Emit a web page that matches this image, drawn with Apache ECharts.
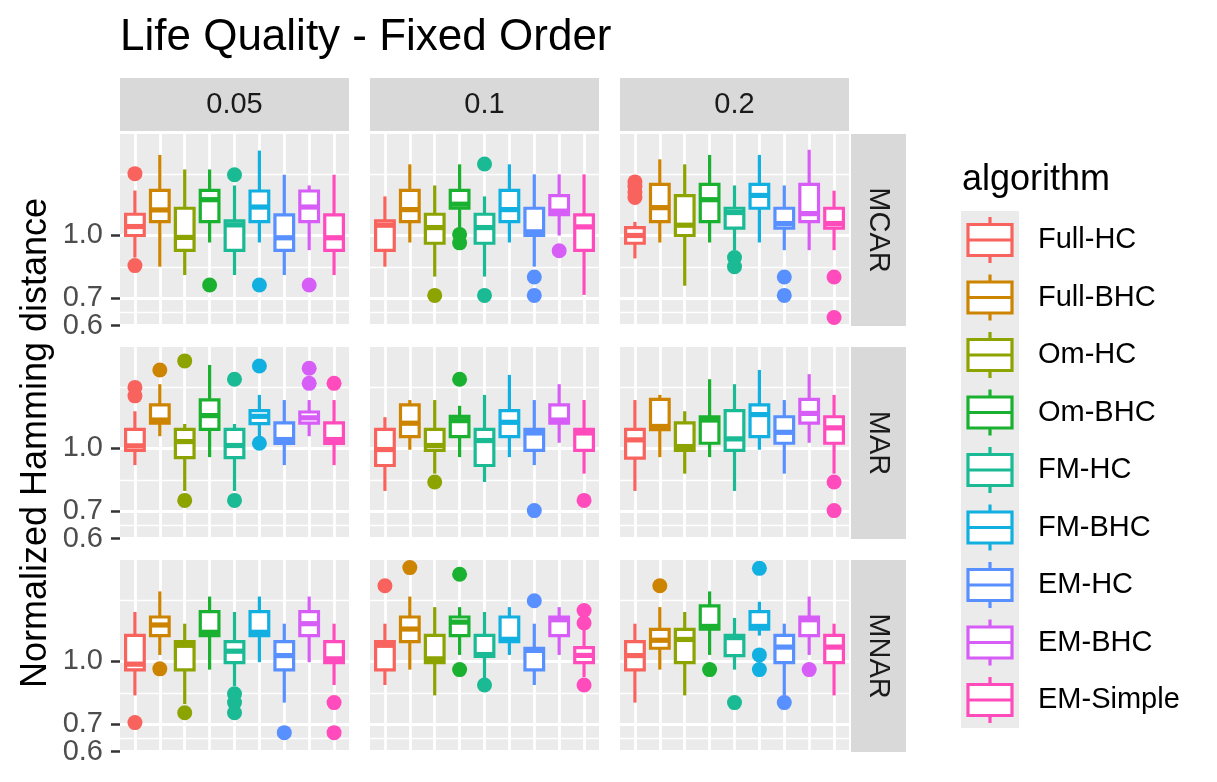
<!DOCTYPE html>
<html><head><meta charset="utf-8">
<script src="https://cdn.jsdelivr.net/npm/echarts@6/dist/echarts.min.js"></script>
<style>html,body{margin:0;padding:0;background:#fff}#c{width:1217px;height:782px}</style>
</head><body><div id="c"></div><script>
// ---------------- DATA ----------------
const algorithms = ['Full-HC','Full-BHC','Om-HC','Om-BHC','FM-HC','FM-BHC','EM-HC','EM-BHC','EM-Simple'];
const rates = ['0.05','0.1','0.2'];
const mechanisms = ['MCAR','MAR','MNAR'];
const yMajorBreaks = [0.6, 0.7, 1.0, 2.0];
const yMinorBreaks = [0.648, 0.837, 1.414];
const yRange = [0.5985, 1.778];

// boxes: [lower whisker, Q1, median, Q3, upper whisker] per algorithm
// outliers: [algorithm index, value]
const mcar005 = [[0.882,1.0,1.052,1.128,1.29],[0.838,1.082,1.156,1.291,1.579],[0.799,0.919,0.989,1.167,1.454],[0.961,1.082,1.225,1.291,1.454],[0.799,0.919,1.062,1.086,1.328],[0.961,1.082,1.175,1.287,1.618],[0.799,0.919,0.987,1.124,1.411],[0.92,1.082,1.175,1.287,1.328],[0.799,0.919,0.987,1.124,1.411]];
const mcar005Out = [[0,1.42],[0,0.843],[3,0.755],[4,1.411],[5,0.755],[7,0.755]];
const mcar01 = [[0.838,0.919,1.06,1.086,1.248],[0.961,1.082,1.158,1.291,1.497],[0.792,0.957,1.046,1.128,1.328],[1.04,1.167,1.194,1.291,1.497],[0.792,0.957,1.046,1.128,1.248],[0.961,1.082,1.158,1.291,1.497],[0.838,1.0,1.021,1.167,1.414],[1.0,1.126,1.148,1.253,1.414],[0.714,0.919,1.05,1.124,1.414]];
const mcar01Out = [[2,0.712],[3,1.006],[3,0.959],[4,1.5],[4,0.712],[6,0.79],[6,0.712],[7,0.917]];
const mcar02 = [[0.878,0.957,1.0,1.046,1.08],[0.961,1.082,1.171,1.336,1.54],[0.752,1.0,1.06,1.253,1.497],[0.961,1.082,1.225,1.336,1.579],[0.92,1.043,1.139,1.167,1.328],[0.961,1.167,1.255,1.336,1.579],[0.92,1.043,1.07,1.167,1.328],[0.92,1.082,1.132,1.336,1.626],[0.92,1.043,1.07,1.167,1.289]];
const mcar02Out = [[0,1.355],[0,1.32],[0,1.28],[0,1.24],[4,0.882],[4,0.838],[6,0.79],[6,0.712],[8,0.79],[8,0.628]];
const mar005 = [[0.91,0.989,1.015,1.115,1.235],[1.072,1.154,1.175,1.281,1.44],[0.786,0.95,1.04,1.115,1.149],[0.952,1.115,1.205,1.318,1.606],[0.786,0.95,1.017,1.115,1.149],[1.072,1.152,1.2,1.239,1.355],[0.91,1.029,1.052,1.156,1.316],[1.072,1.154,1.19,1.23,1.316],[0.91,1.029,1.052,1.156,1.316]];
const mar005Out = [[0,1.414],[0,1.348],[1,1.561],[2,1.643],[2,0.745],[4,1.481],[4,0.745],[5,1.596],[5,1.03],[7,1.576],[7,1.447],[8,1.447]];
const mar01 = [[0.786,0.908,0.994,1.115,1.194],[0.993,1.07,1.154,1.281,1.316],[0.867,0.989,1.017,1.115,1.316],[0.952,1.07,1.171,1.2,1.274],[0.827,0.908,1.046,1.115,1.355],[0.952,1.07,1.16,1.239,1.518],[0.91,0.989,1.092,1.115,1.316],[1.033,1.154,1.175,1.281,1.44],[0.867,0.989,1.092,1.115,1.316]];
const mar01Out = [[2,0.827],[3,1.481],[6,0.703],[8,0.745]];
const mar02 = [[0.786,0.947,1.05,1.115,1.316],[0.952,1.113,1.133,1.321,1.355],[0.867,0.989,1.011,1.156,1.235],[0.952,1.03,1.175,1.197,1.481],[0.786,0.989,1.056,1.239,1.44],[0.993,1.07,1.212,1.281,1.561],[0.867,1.03,1.096,1.197,1.316],[1.033,1.154,1.22,1.321,1.524],[0.867,1.03,1.124,1.197,1.355]];
const mar02Out = [[8,0.827],[8,0.703]];
const mnar005 = [[0.825,0.954,0.985,1.16,1.324],[1.038,1.158,1.23,1.287,1.488],[0.785,0.954,1.096,1.119,1.239],[0.955,1.158,1.18,1.326,1.445],[0.87,0.994,1.06,1.119,1.324],[0.996,1.158,1.18,1.326,1.445],[0.792,0.954,1.034,1.119,1.239],[0.996,1.158,1.239,1.326,1.445],[0.875,0.994,1.015,1.119,1.239]];
const mnar005Out = [[0,0.707],[1,0.959],[2,0.748],[4,0.833],[4,0.792],[4,0.748],[6,0.668],[8,0.792],[8,0.668]];
const mnar01 = [[0.875,0.954,1.096,1.119,1.239],[0.955,1.119,1.202,1.287,1.445],[0.825,0.994,1.015,1.16,1.361],[1.038,1.158,1.25,1.287,1.361],[0.909,1.029,1.04,1.16,1.324],[1.038,1.119,1.134,1.287,1.361],[0.875,0.954,1.065,1.078,1.239],[1.038,1.158,1.267,1.287,1.361],[0.915,0.994,1.035,1.082,1.197]];
const mnar01Out = [[0,1.537],[1,1.703],[3,1.64],[3,0.955],[4,0.875],[6,1.411],[8,1.335],[8,1.244],[8,0.875]];
const mnar02 = [[0.792,0.954,1.034,1.119,1.239],[0.955,1.078,1.128,1.2,1.361],[0.825,0.994,1.133,1.2,1.324],[1.038,1.202,1.22,1.37,1.488],[0.955,1.034,1.145,1.16,1.28],[1.158,1.202,1.22,1.326,1.403],[0.825,0.994,1.085,1.16,1.239],[1.038,1.158,1.267,1.287,1.445],[0.825,0.994,1.085,1.16,1.239]];
const mnar02Out = [[1,1.537],[3,0.955],[4,0.792],[5,1.696],[5,1.038],[5,0.955],[6,0.792],[7,0.955]];

// ---------------- STYLE ----------------
const colors = ['#F8635E','#CD8400','#8CA300','#1AB130','#19BA94','#12B0E0','#5890FF','#D75DF7','#FF4BBC'];
const FONT = '"Liberation Sans", Arial, Helvetica, sans-serif';
const gridLeft = [120, 370, 620], gridTop = [134, 347, 560], gridW = 229, gridH = 192;
const LW = 3.2, LWMED = 5.2;

const L = v => Math.log10(v);
const panels = [
  [[mcar005, mcar005Out], [mcar01, mcar01Out], [mcar02, mcar02Out]],
  [[mar005, mar005Out], [mar01, mar01Out], [mar02, mar02Out]],
  [[mnar005, mnar005Out], [mnar01, mnar01Out], [mnar02, mnar02Out]]
];
const xCats = algorithms.map((a, i) => i + 1);

function renderBox(params, api) {
  const x = api.value(0);
  const lo = api.coord([x, api.value(1)]);
  const q1 = api.coord([x, api.value(2)]);
  const md = api.coord([x, api.value(3)]);
  const q3 = api.coord([x, api.value(4)]);
  const hi = api.coord([x, api.value(5)]);
  const half = api.size([0.75, 0])[0] / 2;
  const color = colors[x - 1];
  return { type: 'group', children: [
    { type: 'line', shape: { x1: lo[0], y1: lo[1], x2: q1[0], y2: q1[1] }, style: { stroke: color, lineWidth: LW } },
    { type: 'line', shape: { x1: q3[0], y1: q3[1], x2: hi[0], y2: hi[1] }, style: { stroke: color, lineWidth: LW } },
    { type: 'rect', shape: { x: q1[0] - half, y: q3[1], width: 2 * half, height: q1[1] - q3[1] }, style: { fill: '#fff', stroke: color, lineWidth: LW } },
    { type: 'line', shape: { x1: md[0] - half, y1: md[1], x2: md[0] + half, y2: md[1] }, style: { stroke: color, lineWidth: LWMED, lineCap: 'butt' } }
  ]};
}

const grids = [], xAxes = [], yAxes = [], series = [];
const yMin = L(yRange[0]), yMax = L(yRange[1]);
const labelStyle = { margin: 17, hideOverlap: false, fontSize: 29, fontFamily: FONT, color: '#4D4D4D',
  formatter: v => Math.pow(10, v).toFixed(1) };
for (let r = 0; r < 3; r++) {
  for (let c = 0; c < 3; c++) {
    const k = r * 3 + c;
    grids.push({ left: gridLeft[c], top: gridTop[r], width: gridW, height: gridH, show: true,
      backgroundColor: '#EBEBEB', borderWidth: 0, containLabel: false, outerBoundsMode: 'none' });
    xAxes.push({ gridIndex: k, type: 'value', min: 0.4, max: 9.6,
      axisLine: { show: false }, axisLabel: { show: false },
      axisTick: { show: false, customValues: xCats },
      splitLine: { show: true, lineStyle: { color: '#FFFFFF', width: 2.8 } } });
    // major breaks: ticks + gridlines (labels for all but the lowest break)
    yAxes.push({ gridIndex: k, type: 'value', min: yMin, max: yMax, position: 'left',
      axisLine: { show: false },
      axisTick: { show: c === 0, customValues: yMajorBreaks.map(L), length: 9, lineStyle: { color: '#333333', width: 2.5 } },
      axisLabel: Object.assign({ show: c === 0, customValues: yMajorBreaks.slice(1).map(L) }, labelStyle),
      splitLine: { show: true, lineStyle: { color: '#FFFFFF', width: 2.8 } } });
    // minor breaks: gridlines only
    yAxes.push({ gridIndex: k, type: 'value', min: yMin, max: yMax, position: 'right',
      axisLine: { show: false }, axisLabel: { show: false },
      axisTick: { show: false, customValues: yMinorBreaks.map(L) },
      splitLine: { show: true, lineStyle: { color: '#FFFFFF', width: 1.4 } } });
    // lowest major break label (kept on its own axis so it is not hidden by overlap logic)
    yAxes.push({ gridIndex: k, type: 'value', min: yMin, max: yMax, position: 'left',
      axisLine: { show: false }, splitLine: { show: false },
      axisTick: { show: false, customValues: yMajorBreaks.slice(0, 1).map(L) },
      axisLabel: Object.assign({ show: c === 0, customValues: yMajorBreaks.slice(0, 1).map(L), showMinLabel: true }, labelStyle) });
    const [boxes, outs] = panels[r][c];
    series.push({ type: 'custom', xAxisIndex: k, yAxisIndex: 3 * k, renderItem: renderBox,
      encode: { x: 0, y: [1, 2, 3, 4, 5] }, z: 2,
      data: boxes.map((b, i) => [i + 1].concat(b.map(L))) });
    series.push({ type: 'scatter', xAxisIndex: k, yAxisIndex: 3 * k, symbol: 'circle', symbolSize: 15, z: 3,
      data: outs.map(([i, v]) => ({ value: [i + 1, L(v)], itemStyle: { color: colors[i], opacity: 1 } })) });
  }
}

// ---------------- DECORATION (strips, titles, legend) ----------------
const graphics = [];
graphics.push({ type: 'text', x: 120, y: 38, style: { text: 'Life Quality - Fixed Order', font: '44px ' + FONT, fill: '#000', align: 'left', verticalAlign: 'middle' } });
graphics.push({ type: 'text', x: 36, y: 443, rotation: Math.PI / 2, style: { text: 'Normalized Hamming distance', font: '36px ' + FONT, fill: '#000', align: 'center', verticalAlign: 'middle' } });
rates.forEach((t, c) => {
  graphics.push({ type: 'rect', shape: { x: gridLeft[c], y: 78, width: gridW, height: 53 }, style: { fill: '#D9D9D9' } });
  graphics.push({ type: 'text', x: gridLeft[c] + gridW / 2, y: 105, style: { text: t, font: '29px ' + FONT, fill: '#1A1A1A', align: 'center', verticalAlign: 'middle' } });
});
mechanisms.forEach((t, r) => {
  graphics.push({ type: 'rect', shape: { x: 851, y: gridTop[r], width: 55, height: gridH }, style: { fill: '#D9D9D9' } });
  graphics.push({ type: 'text', x: 878, y: gridTop[r] + gridH / 2, rotation: -Math.PI / 2, style: { text: t, font: '29px ' + FONT, fill: '#1A1A1A', align: 'center', verticalAlign: 'middle' } });
});
graphics.push({ type: 'text', x: 962, y: 180, style: { text: 'algorithm', font: '36px ' + FONT, fill: '#000', align: 'left', verticalAlign: 'middle' } });
graphics.push({ type: 'rect', shape: { x: 961, y: 211, width: 58, height: 517 }, style: { fill: '#EBEBEB' } });
algorithms.forEach((a, i) => {
  const cy = 240 + i * 57.5, col = colors[i];
  graphics.push({ type: 'line', shape: { x1: 990, y1: cy - 23, x2: 990, y2: cy + 23 }, style: { stroke: col, lineWidth: LW } });
  graphics.push({ type: 'rect', shape: { x: 968, y: cy - 15.5, width: 44, height: 31 }, style: { fill: '#fff', stroke: col, lineWidth: LW } });
  graphics.push({ type: 'line', shape: { x1: 968, y1: cy, x2: 1012, y2: cy }, style: { stroke: col, lineWidth: LW } });
  graphics.push({ type: 'text', x: 1038, y: cy, style: { text: a, font: '29px ' + FONT, fill: '#000', align: 'left', verticalAlign: 'middle' } });
});

const chart = echarts.init(document.getElementById('c'), null, { renderer: 'canvas' });
chart.setOption({
  animation: false,
  backgroundColor: '#FFFFFF',
  grid: grids, xAxis: xAxes, yAxis: yAxes, series: series,
  graphic: { elements: graphics }
});
</script></body></html>
